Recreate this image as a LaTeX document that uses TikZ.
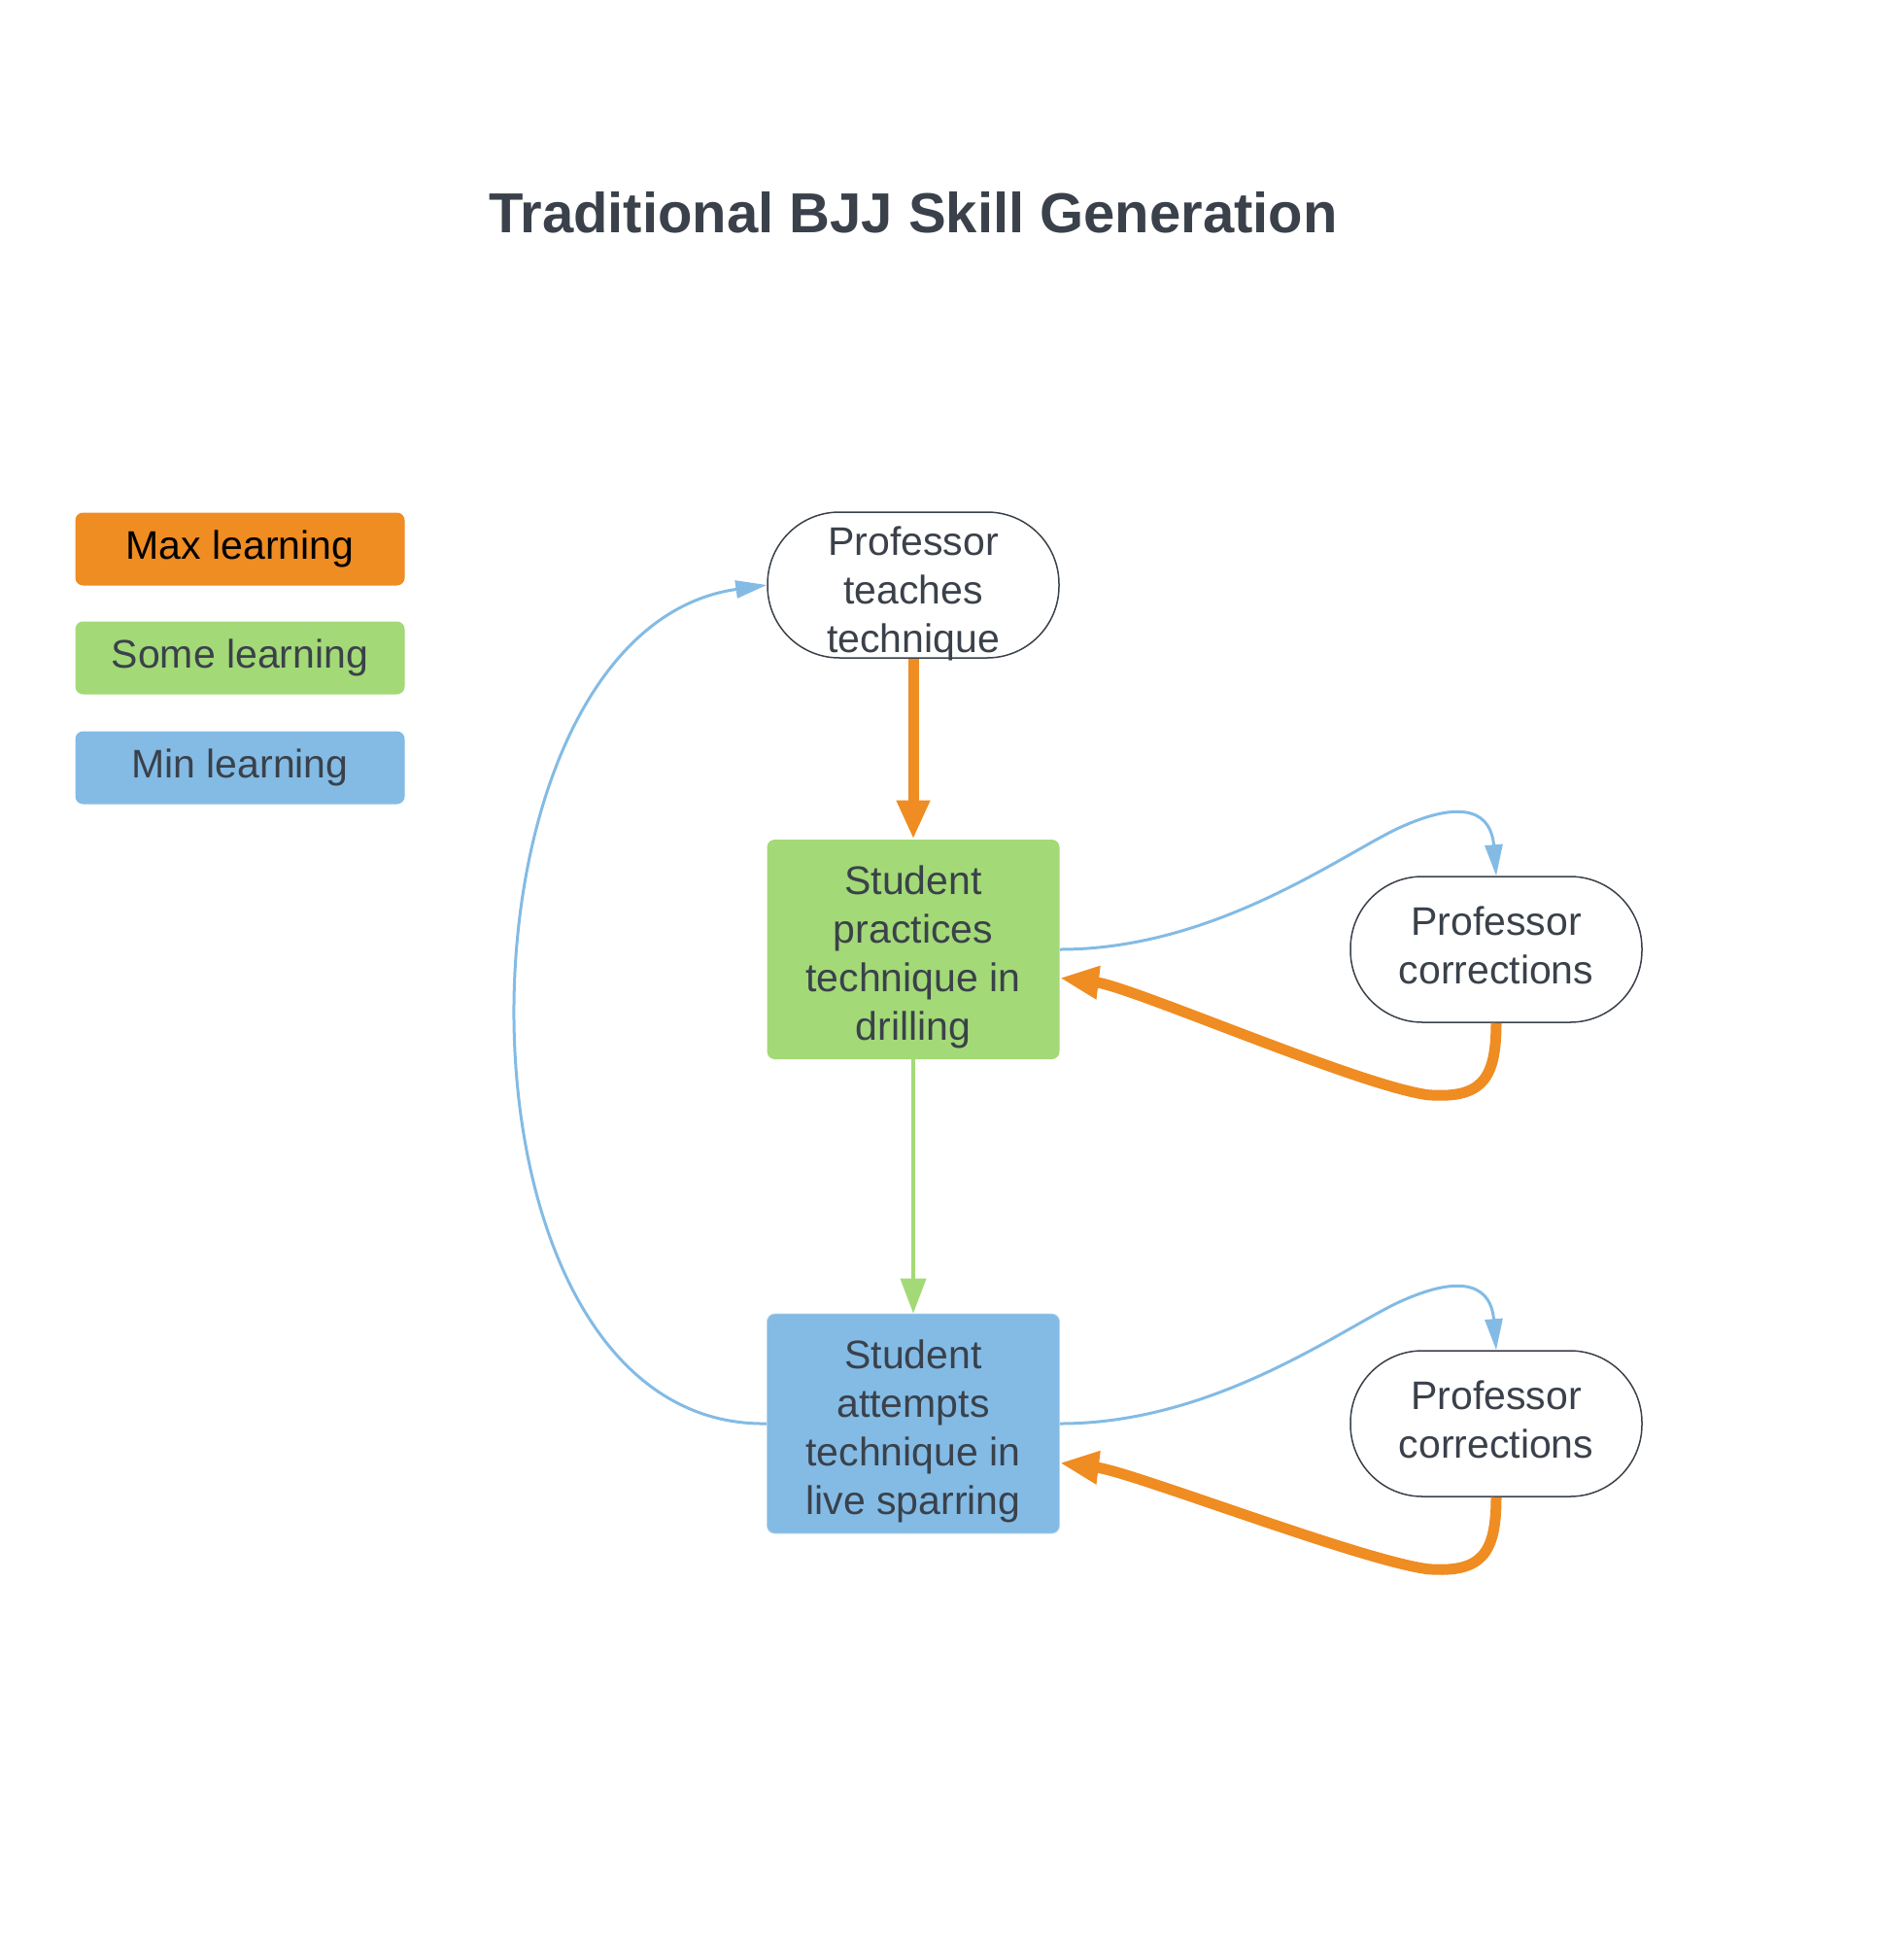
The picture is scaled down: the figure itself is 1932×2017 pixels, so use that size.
\documentclass[tikz,border=0pt]{standalone}
\usepackage{fontspec}
\setmainfont{Liberation Sans}
\usetikzlibrary{arrows.meta}

\definecolor{maxorange}{HTML}{EF8C22}
\definecolor{somegreen}{HTML}{A3D977}
\definecolor{minblue}{HTML}{83BBE5}
\definecolor{inkgray}{HTML}{3A414A}

% struts to place the lines as in the boxes
\newcommand{\padtop}[1]{\rule{0pt}{#1}}
\newcommand{\padbot}{\rule[-4.5pt]{0pt}{4.5pt}}
\newcommand{\nodepth}[1]{\raisebox{0pt}[\height][0pt]{#1}}

\begin{document}
\begin{tikzpicture}[x=0.5pt,y=-0.5pt,
  every node/.style={font=\fontsize{20.5}{25}\selectfont,text=inkgray,align=center,inner sep=0pt},
  legendbox/.style={rounded corners=4pt,minimum width=169.5pt,minimum height=37.5pt},
  stadium/.style={draw=inkgray,line width=0.75pt,rounded corners=37pt,minimum width=150pt,minimum height=75pt},
  stepbox/.style={rounded corners=4pt,minimum width=150.5pt,minimum height=113pt},
  maxline/.style={draw=maxorange,line width=5.5pt,-{Triangle[width=16pt,length=20pt]}},
  someline/.style={draw=somegreen,line width=2pt,-{Triangle[width=13pt,length=18pt]}},
  minline/.style={draw=minblue,line width=1.5pt,-{Triangle[width=9pt,length=16pt]}}]
\useasboundingbox (0,0) rectangle (1932,2017);

\node[font=\fontsize{29}{35}\selectfont\bfseries] (title) at (940,219) {Traditional BJJ Skill Generation};

% legend
\node[legendbox,fill=maxorange,text=black] (legmax) at (247,565) {Max learning};
\node[legendbox,fill=somegreen] (legsome) at (247,677) {Some learning};
\node[legendbox,fill=minblue] (legmin) at (247,790) {Min learning};

% steps
\node[stadium] (teach) at (940,602) {\padtop{19pt}Professor\\teaches\\\nodepth{technique}};
\node[stepbox,fill=somegreen] (drill) at (940,977) {\padtop{23pt}Student\\practices\\technique in\\drilling};
\node[stepbox,fill=minblue,draw=minblue!60] (spar) at (940,1465) {\padtop{23pt}Student\\attempts\\technique in\\live sparring};
\node[stadium] (corrA) at (1540,977) {Professor\\corrections\padbot};
\node[stadium] (corrB) at (1540,1465) {Professor\\corrections\padbot};

\draw[maxline] (teach) -- (drill);
\draw[someline] (drill) -- (spar);
\draw[minline] (spar.west) .. controls (445,1470) and (450,650) .. (teach.west);

% correction loops
\draw[minline] (drill.east) .. controls +(159,0) and +(-60,28) .. ++(349,-125)
  .. controls +(70,-32) and +(-5,-63) .. (corrA.north);
\draw[maxline] (corrA.south) .. controls +(0,58) and +(55,4) .. ++(-70,74)
  .. controls +(-70,-9) and +(74,9) .. (drill.-11);

\draw[minline] (spar.east) .. controls +(159,0) and +(-60,28) .. ++(349,-125)
  .. controls +(70,-32) and +(-5,-63) .. (corrB.north);
\draw[maxline] (corrB.south) .. controls +(0,58) and +(55,4) .. ++(-70,74)
  .. controls +(-70,-9) and +(74,9) .. (spar.-15);
\end{tikzpicture}
\end{document}
